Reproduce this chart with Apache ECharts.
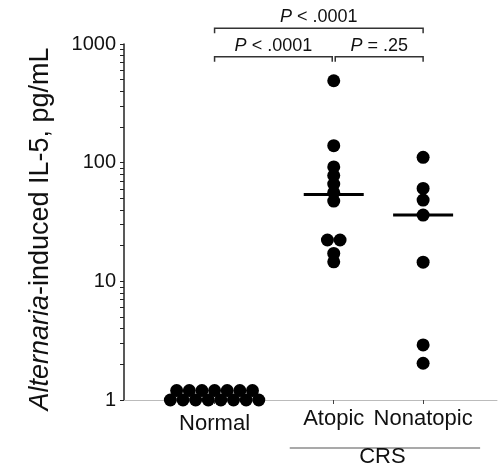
<!DOCTYPE html>
<html>
<head>
<meta charset="utf-8">
<script src="https://cdn.jsdelivr.net/npm/echarts@6/dist/echarts.min.js"></script>
<style>
  html, body { margin: 0; padding: 0; background: #fff; }
  #chart { width: 499px; height: 465px; }
</style>
</head>
<body>
<div id="chart"></div>
<script>
// data (pg/mL)
var categories = ['Normal', 'Atopic', 'Nonatopic'];
var normalValues = [1, 1, 1, 1, 1, 1, 1, 1, 1.2, 1.2, 1.2, 1.2, 1.2, 1.2, 1.2];
var atopicValues = [490, 139, 92, 78, 66, 56, 47.5, 22.3, 22.3, 17.2, 14.6];
var nonatopicValues = [111, 60.7, 48.4, 36.2, 14.5, 2.91, 2.04];
var medianValues = [null, 54, 36.2];
var yTickValues = [1, 10, 100, 1000];
// comparisons: [fromGroup, toGroup, bracket level (pg/mL), p text]
var comparisons = [
  [0, 2, 1360, ' < .0001'],
  [0, 1, 780, ' < .0001'],
  [1, 2, 780, ' = .25']
];

// layout
var groupX = [1, 2, 2.75];
var dotStep = 0.106;
var FONT = '"Liberation Sans", Arial, Helvetica, sans-serif';

// major ticks plus 2..9 in each decade
var allTicks = [];
for (var d = 1; d < 1000; d *= 10) {
  for (var k = 1; k <= 9; k++) allTicks.push(k * d);
}
allTicks.push(1000);

// spread identical values side by side
function dots(values, gx) {
  var counts = {}, seen = {};
  values.forEach(function (v) { counts[v] = (counts[v] || 0) + 1; });
  return values.map(function (v) {
    var i = seen[v] || 0;
    seen[v] = i + 1;
    return [gx + (i - (counts[v] - 1) / 2) * dotStep, v];
  });
}

var groups = [normalValues, atopicValues, nonatopicValues];
var scatterSeries = groups.map(function (vals, g) {
  return {
    type: 'scatter',
    name: categories[g],
    data: dots(vals, groupX[g]),
    symbol: 'circle',
    symbolSize: 13,
    itemStyle: { color: '#000', opacity: 1 },
    silent: true,
    z: 3
  };
});

var medianData = [];
medianValues.forEach(function (m, g) {
  if (m != null) medianData.push([groupX[g], m]);
});

var chart = echarts.init(document.getElementById('chart'));
var option = {
  backgroundColor: '#fff',
  animation: false,
  grid: { left: 124, right: 2, top: 44, bottom: 65, containLabel: false },
  xAxis: {
    type: 'value',
    min: 0.24,
    max: 3.37,
    splitLine: { show: false },
    axisLine: { show: true, onZero: false, lineStyle: { color: '#bbb', width: 1 } },
    axisTick: { show: true, length: 4, customValues: groupX, lineStyle: { color: '#444', width: 1 } },
    axisLabel: {
      customValues: groupX,
      margin: 8,
      formatter: function (v) {
        var i = groupX.indexOf(v);
        return i === 0 ? '{low|' + categories[i] + '}' : '{hi|' + categories[i] + '}';
      },
      rich: {
        low: { fontFamily: FONT, fontSize: 22, color: '#111', padding: [5, 0, 0, 0] },
        hi: { fontFamily: FONT, fontSize: 22, color: '#111' }
      }
    }
  },
  yAxis: {
    type: 'log',
    logBase: 10,
    min: 1,
    max: 1000,
    name: '{i|Alternaria}-induced IL-5, pg/mL',
    nameLocation: 'middle',
    nameRotate: 90,
    nameGap: 70,
    nameTextStyle: {
      fontFamily: FONT,
      fontSize: 27,
      color: '#111',
      padding: [0, 14, 0, 0],
      rich: { i: { fontFamily: FONT, fontSize: 27, fontStyle: 'italic', color: '#111' } }
    },
    splitLine: { show: false },
    axisLine: { show: true, lineStyle: { color: '#222', width: 1.5 } },
    axisTick: { show: true, length: 4, customValues: allTicks, lineStyle: { color: '#222', width: 1 } },
    axisLabel: {
      customValues: yTickValues,
      margin: 8,
      fontFamily: FONT,
      fontSize: 20,
      color: '#111',
      formatter: function (v) { return String(v); }
    }
  },
  series: scatterSeries.concat([
    {
      type: 'custom',
      name: 'median',
      data: medianData,
      silent: true,
      z: 4,
      renderItem: function (params, api) {
        var p = api.coord([api.value(0), api.value(1)]);
        return {
          type: 'line',
          shape: { x1: p[0] - 30, y1: p[1], x2: p[0] + 30, y2: p[1] },
          style: { stroke: '#000', lineWidth: 3 }
        };
      }
    },
    {
      type: 'custom',
      name: 'brackets',
      data: comparisons.map(function (c) { return [groupX[c[0]], groupX[c[1]], c[2]]; }),
      silent: true,
      clip: false,
      encode: { x: [0, 1], y: 2 },
      renderItem: function (params, api) {
        var c = comparisons[params.dataIndex];
        var a = api.coord([api.value(0), api.value(2)]);
        var b = api.coord([api.value(1), api.value(2)]);
        var x1 = a[0] + (c[0] === 1 ? 1.5 : 0);
        var x2 = b[0] - (c[1] === 1 ? 1.5 : 0);
        var y = a[1];
        return {
          type: 'group',
          children: [
            {
              type: 'polyline',
              shape: { points: [[x1, y + 5], [x1, y], [x2, y], [x2, y + 5]] },
              style: { stroke: '#333', lineWidth: 1.5, fill: null }
            },
            {
              type: 'text',
              x: (x1 + x2) / 2,
              y: y - 2,
              style: {
                text: '{i|P}' + c[3],
                fontFamily: FONT,
                fontSize: 18,
                fill: '#111',
                align: 'center',
                verticalAlign: 'bottom',
                rich: { i: { fontFamily: FONT, fontSize: 18, fontStyle: 'italic', fill: '#111' } }
              }
            }
          ]
        };
      }
    },
    {
      type: 'custom',
      name: 'crs',
      data: [[groupX[1], groupX[2], 1]],
      silent: true,
      clip: false,
      encode: { x: [0, 1], y: 2 },
      renderItem: function (params, api) {
        var a = api.coord([api.value(0), api.value(2)]);
        var b = api.coord([api.value(1), api.value(2)]);
        return {
          type: 'group',
          children: [
            {
              type: 'line',
              shape: { x1: a[0] - 44, y1: a[1] + 48, x2: b[0] + 57, y2: a[1] + 48 },
              style: { stroke: '#555', lineWidth: 1.2 }
            },
            {
              type: 'text',
              x: (a[0] + b[0]) / 2 + 4,
              y: a[1] + 57,
              style: {
                text: 'CRS',
                fontFamily: FONT,
                fontSize: 22,
                fill: '#111',
                align: 'center',
                verticalAlign: 'middle'
              }
            }
          ]
        };
      }
    }
  ])
};
chart.setOption(option);
</script>
</body>
</html>
